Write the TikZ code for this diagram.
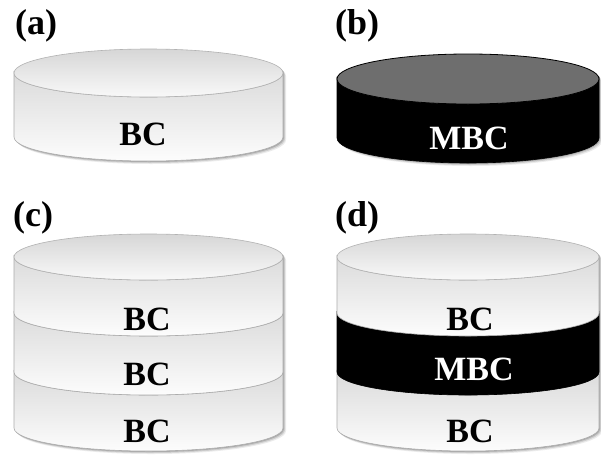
\documentclass[tikz,border=0pt]{standalone}
\usepackage{fontspec}
\setmainfont{Liberation Serif}

% side band of one cylinder layer: cx, rx, ry, ytop, ybot, options
\newcommand\disklayer[6]{%
  \path[#6] (#1-#2,-#4) -- (#1-#2,-#5)
    arc[start angle=180,end angle=360,x radius=#2,y radius=#3]
    -- (#1+#2,-#4)
    arc[start angle=0,end angle=-180,x radius=#2,y radius=#3] -- cycle;}
% top face of a cylinder: cx, rx, ry, ytop, options
\newcommand\disktop[5]{%
  \path[#5] (#1,-#4) ellipse[x radius=#2,y radius=#3];}
% soft shadow behind a whole cylinder: cx, rx, ry, ytop, ybot
\newcommand\diskshadow[5]{%
  \foreach \s/\o in {3/0.08,2/0.12,1/0.16}{%
    \fill[black,opacity=\o,shift={(\s,-\s)}] (#1-#2,-#4)
      arc[start angle=180,end angle=0,x radius=#2,y radius=#3]
      -- (#1+#2,-#5)
      arc[start angle=0,end angle=-180,x radius=#2,y radius=#3] -- cycle;}}

\begin{document}
\begin{tikzpicture}[x=1pt,y=1pt,
  lbl/.style={font=\fontsize{36}{36}\selectfont\bfseries,anchor=base west,inner sep=0pt},
  txt/.style={font=\fontsize{34}{34}\selectfont\bfseries,anchor=base,inner sep=0pt},
  wtxt/.style={txt,text=white},
  lightside/.style={top color=gray!28,bottom color=gray!2,draw=gray!65,line width=0.6pt},
  lighttop/.style={top color=gray!32,bottom color=gray!5,draw=gray!60,line width=0.6pt},
  darkside/.style={fill=black,draw=black,line width=0.6pt},
  darktop/.style={fill=black!57,draw=black,line width=0.8pt}]
\useasboundingbox[fill=white] (0,0) rectangle (601,-455);

% (a) single BC disk
\diskshadow{148.5}{134.5}{24}{73}{137}
\disklayer{148.5}{134.5}{24}{73}{137}{lightside}
\disktop{148.5}{134.5}{24}{73}{lighttop}
\node[lbl] (la) at (15,-34) {(a)};
\node[txt] (ta) at (143,-145) {BC};

% (b) single MBC disk
\diskshadow{468}{131}{25}{79}{138}
\disklayer{468}{131}{25}{79}{138}{darkside}
\disktop{468}{131}{25}{79}{darktop}
\node[lbl] (lb) at (335,-34) {(b)};
\node[wtxt] (tb) at (469,-149) {MBC};

% (c) stack BC / BC / BC
\diskshadow{148.5}{134.5}{23}{257}{428}
\disklayer{148.5}{134.5}{23}{372}{428}{lightside}
\disklayer{148.5}{134.5}{23}{313}{372}{lightside}
\disklayer{148.5}{134.5}{23}{257}{313}{lightside}
\disktop{148.5}{134.5}{23}{257}{lighttop}
\node[lbl] (lc) at (13,-226) {(c)};
\node[txt] (tc1) at (147,-330) {BC};
\node[txt] (tc2) at (147,-385) {BC};
\node[txt] (tc3) at (147,-442) {BC};

% (d) stack BC / MBC / BC
\diskshadow{468}{131}{23}{257}{428}
\disklayer{468}{131}{23}{372}{428}{lightside}
\disklayer{468}{131}{23}{313}{372}{darkside}
\disklayer{468}{131}{23}{257}{313}{lightside}
\disktop{468}{131}{23}{257}{lighttop}
\node[lbl] (ld) at (335,-226) {(d)};
\node[txt] (td1) at (470,-330) {BC};
\node[wtxt] (td2) at (474,-380) {MBC};
\node[txt] (td3) at (470,-442) {BC};
\end{tikzpicture}
\end{document}
